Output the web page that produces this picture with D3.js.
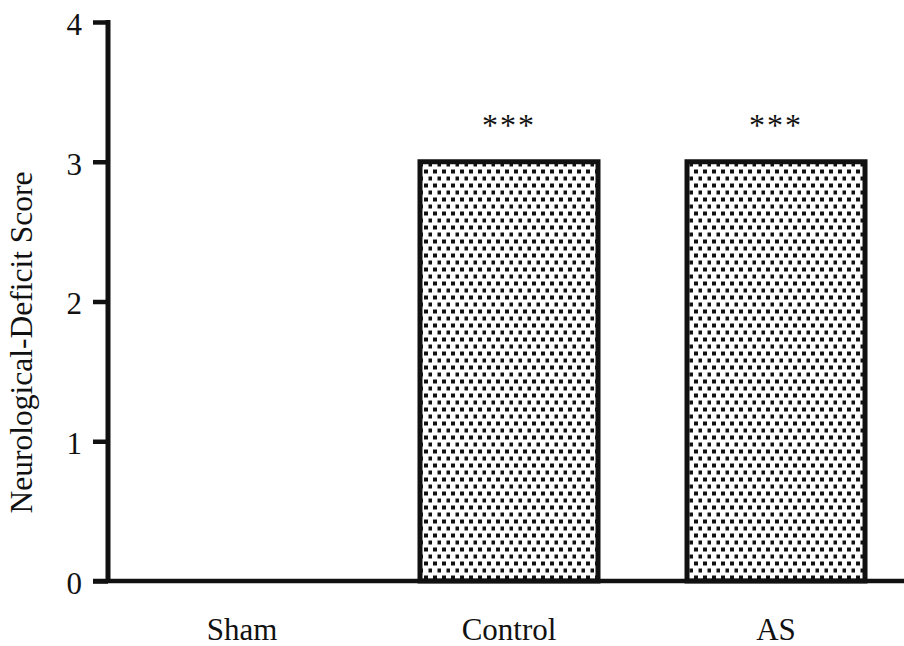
<!DOCTYPE html>
<html>
<head>
<meta charset="utf-8">
<script src="https://cdn.jsdelivr.net/npm/d3@7"></script>
<style>
  html, body { margin: 0; padding: 0; background: #fff; }
  svg { display: block; }
  text { font-family: "Liberation Serif", "Times New Roman", serif; fill: #111; }
</style>
</head>
<body>
<script>
// Neurological-deficit score per group
const categories = ["Sham", "Control", "AS"];
const scores = [0, 3, 3];
const significance = ["", "***", "***"];
const yTicks = [0, 1, 2, 3, 4];

const W = 904, H = 646;
const svg = d3.select("body").append("svg").attr("width", W).attr("height", H);

// Dotted fill used inside the bars
const defs = svg.append("defs");
const pat = defs.append("pattern")
  .attr("id", "dots").attr("patternUnits", "userSpaceOnUse")
  .attr("width", 9).attr("height", 14);
pat.append("rect").attr("width", 9).attr("height", 14).attr("fill", "#fff");
pat.append("rect").attr("x", 1).attr("y", 1.5).attr("width", 4).attr("height", 4).attr("fill", "#111");
pat.append("rect").attr("x", 5.5).attr("y", 8.5).attr("width", 4).attr("height", 4).attr("fill", "#111");

const x = d3.scaleBand().domain(categories).range([108, 910])
  .paddingInner(1 / 3).paddingOuter(0.1685);
const y = d3.scaleLinear().domain([0, 4]).range([581, 22]);

const axisX = 108;

// Bars
svg.append("g").selectAll("rect").data(categories).join("rect")
  .attr("x", d => x(d))
  .attr("y", (d, i) => y(scores[i]))
  .attr("width", x.bandwidth())
  .attr("height", (d, i) => y(0) - y(scores[i]))
  .attr("fill", "url(#dots)")
  .attr("stroke", "#111")
  .attr("stroke-width", (d, i) => scores[i] > 0 ? 5 : 0);

// Significance marks
svg.append("g").selectAll("text").data(categories).join("text")
  .attr("x", d => x(d) + x.bandwidth() / 2)
  .attr("y", (d, i) => y(scores[i]) - 26)
  .attr("text-anchor", "middle")
  .attr("font-size", 32)
  .attr("letter-spacing", 2)
  .text((d, i) => significance[i]);

// Y axis
const yAxis = svg.append("g").attr("transform", `translate(${axisX},0)`)
  .call(d3.axisLeft(y).tickValues(yTicks).tickFormat(d3.format("d")).tickSize(15).tickPadding(11));
yAxis.select(".domain").remove();
yAxis.selectAll(".tick line").attr("stroke", "#111").attr("stroke-width", 4.5);
yAxis.selectAll(".tick text").attr("font-size", 31).attr("font-family", "Liberation Serif, serif")
  .attr("dy", "0.4em").attr("fill", "#111");
svg.append("line")
  .attr("x1", axisX).attr("x2", axisX)
  .attr("y1", y(4) - 2).attr("y2", y(0) + 2)
  .attr("stroke", "#111").attr("stroke-width", 5);

// X axis baseline and category labels
svg.append("line")
  .attr("x1", axisX - 15).attr("x2", W)
  .attr("y1", y(0)).attr("y2", y(0))
  .attr("stroke", "#111").attr("stroke-width", 4.5);
const xAxis = svg.append("g").attr("transform", `translate(0,${y(0)})`)
  .call(d3.axisBottom(x).tickSize(0).tickPadding(0));
xAxis.select(".domain").remove();
xAxis.selectAll(".tick text").attr("font-size", 31).attr("font-family", "Liberation Serif, serif")
  .attr("dy", 0).attr("y", 59).attr("fill", "#111");

// Y axis title
svg.append("text")
  .attr("transform", `translate(32,${(y(0) + y(4)) / 2 + 41}) rotate(-90)`)
  .attr("text-anchor", "middle")
  .attr("font-size", 31.5)
  .text("Neurological-Deficit Score");
</script>
</body>
</html>
